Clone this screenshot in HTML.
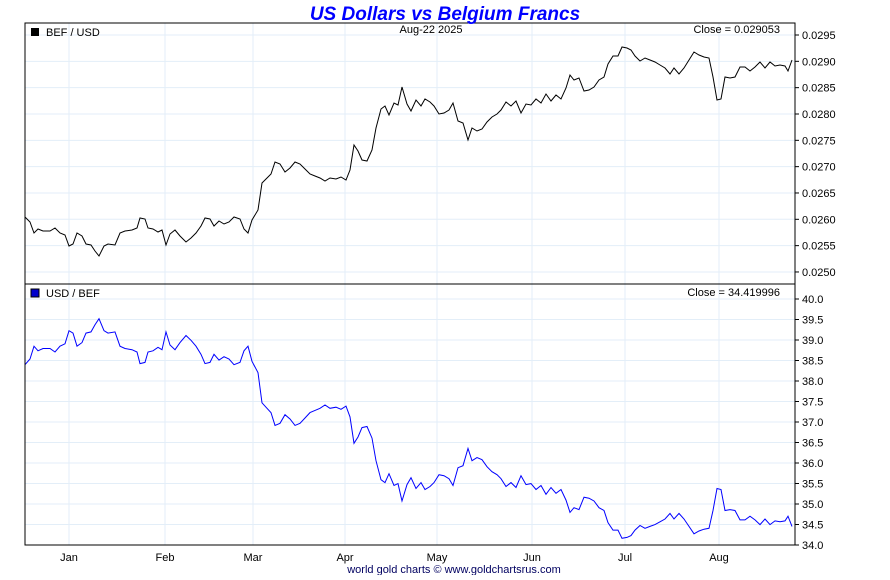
<!DOCTYPE html>
<html><head><meta charset="utf-8"><style>
body{margin:0;background:#fff;}
svg text{font-family:"Liberation Sans",sans-serif;}
</style></head><body>
<svg id="c" width="890" height="575" xmlns="http://www.w3.org/2000/svg"></svg>
<script>
const s=document.getElementById('c');let h='';
const L=25,R=795,T1=23,B1=284,B2=545;
// grid verticals
const months=[[69,'Jan'],[165,'Feb'],[253,'Mar'],[345,'Apr'],[437,'May'],[532,'Jun'],[625,'Jul'],[719,'Aug']];
months.forEach(m=>{h+=`<line x1="${m[0]}" y1="${T1}" x2="${m[0]}" y2="${B2}" stroke="#e3eef8"/>`;
h+=`<text x="${m[0]}" y="561" font-size="11" text-anchor="middle">${m[1]}</text>`;});
// top ticks
const ty=v=>35+(0.0295-v)/0.0005*26.33;
for(let i=0;i<10;i++){const v=0.0295-i*0.0005,y=ty(v);
 h+=`<line x1="${L}" y1="${y}" x2="${R}" y2="${y}" stroke="#e3eef8"/><line x1="${R}" y1="${y}" x2="${R+4}" y2="${y}" stroke="#000"/>`;
 h+=`<text x="${R+7}" y="${y+4}" font-size="11">${v.toFixed(4)}</text>`;}
const by=v=>299+(40-v)/0.5*20.5;
for(let i=0;i<13;i++){const v=40-i*0.5,y=by(v);
 if(i<12)h+=`<line x1="${L}" y1="${y}" x2="${R}" y2="${y}" stroke="#e3eef8"/>`;
 h+=`<line x1="${R}" y1="${y}" x2="${R+4}" y2="${y}" stroke="#000"/>`;
 h+=`<text x="${R+7}" y="${y+4}" font-size="11">${v.toFixed(1)}</text>`;}
const p=[25,217,30,222,34,233,38,229,43,231,50,231,55,228,60,233,65,235,69,246,73,244,77,233,82,236,86,244,91,245,95,251,99,256,104,246,108,244,115,245,120,233,125,231,132,230,137,228,140,218,145,219,148,228,153,229,158,232,162,230,166,245,170,234,175,230,180,236,186,242,191,238,196,233,201,226,205,218,210,219,214,226,219,221,224,224,229,222,234,217,240,219,244,229,248,233,252,220,258,210,262,183,267,178,271,174,275,162,280,164,285,172,290,168,295,162,300,164,305,169,310,174,315,176,320,178,325,181,330,178,336,179,341,177,346,180,350,170,354,145,358,151,362,160,367,161,372,150,376,128,381,109,385,106,389,115,394,103,398,105,402,87,407,104,411,111,416,100,421,106,425,99,430,102,434,106,439,114,444,113,449,110,453,103,458,121,463,123,468,140,472,128,477,131,482,129,487,122,492,117,497,114,501,110,506,102,511,106,516,101,521,113,526,104,531,105,536,99,541,103,546,94,551,101,556,95,561,99,566,88,570,75,574,80,579,78,584,91,589,90,594,87,599,80,604,77,608,64,613,56,618,56,622,47,627,48,631,50,635,56,640,61,645,58,650,60,655,62,660,65,665,68,670,74,674,68,679,74,684,68,689,60,694,52,699,55,704,57,709,58,713,77,717,100,721,99,725,77,730,78,735,77,740,67,745,67,750,71,755,67,760,62,765,68,770,62,775,66,780,65,785,66,788,71,792,60];
let a='',b='';
for(let i=0;i<p.length;i+=2){const x=p[i],y=p[i+1];a+=x+','+y+' ';
 const v=0.0295-(y-35)/26.33*0.0005;b+=x+','+by(1/v).toFixed(1)+' ';}
h+=`<polyline points="${a}" fill="none" stroke="#000" stroke-width="1"/>`;
h+=`<polyline points="${b}" fill="none" stroke="#0000ff" stroke-width="1"/>`;
h+=`<rect x="${L}" y="${T1}" width="${R-L}" height="${B2-T1}" fill="none" stroke="#000"/>`;
h+=`<line x1="${L}" y1="${B1}" x2="${R}" y2="${B1}" stroke="#000"/>`;
h+=`<rect x="31" y="28" width="8" height="8" fill="#000"/><text x="46" y="36" font-size="11">BEF / USD</text>`;
h+=`<rect x="31" y="289" width="8" height="8" fill="#0000cc" stroke="#000"/><text x="46" y="297" font-size="11">USD / BEF</text>`;
h+=`<text x="431" y="33" font-size="11" text-anchor="middle">Aug-22  2025</text>`;
h+=`<text x="780" y="33" font-size="11" text-anchor="end">Close = 0.029053</text>`;
h+=`<text x="780" y="296" font-size="11" text-anchor="end">Close = 34.419996</text>`;
h+=`<text x="445" y="20" font-size="19" font-weight="bold" font-style="italic" fill="#0000ff" text-anchor="middle">US Dollars vs Belgium Francs</text>`;
h+=`<text x="454" y="573" font-size="11" fill="#000060" text-anchor="middle">world gold charts © www.goldchartsrus.com</text>`;
s.innerHTML=h;
</script>
</body></html>
